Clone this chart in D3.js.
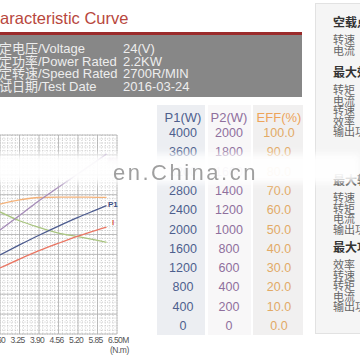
<!DOCTYPE html>
<html>
<head>
<meta charset="utf-8">
<style>
  body { margin: 0; background: #fff; overflow: hidden; }
  svg { display: block; font-family: "Liberation Sans", Arial, "Noto Sans CJK SC", sans-serif; }
</style>
<script src="https://cdn.jsdelivr.net/npm/d3@7"></script>
</head>
<body>
<svg width="360" height="360"></svg>
<script>
const specLabels = ['额定电压/Voltage', '额定功率/Power Rated', '额定转速/Speed Rated', '测试日期/Test Date'];
const specValues = ['24(V)', '2.2KW', '2700R/MIN', '2016-03-24'];

// torque axis (N.m)
const torqueTicks = [0, 0.65, 1.3, 1.95, 2.6, 3.25, 3.9, 4.55, 5.2, 5.85, 6.5];
const torqueTickLabels = ['0', '0.65', '1.30', '1.95', '2.60', '3.25', '3.90', '4.56', '5.20', '5.85', '6.50M'];

// curves
const torque = [2.6, 3.25, 3.9, 4.55, 5.2, 5.85, 6.15];
const p1Watts = [1590, 1790, 1985, 2170, 2345, 2505, 2580];
const p2Watts = [1045, 1190, 1340, 1475, 1610, 1745, 1810];
const effPct = [65.3, 67.4, 68.6, 68.8, 68.8, 68.7, 68.7];
const currentAmps = [66.3, 75.3, 83.7, 91.2, 98.3, 104.7, 107.3];
const speedRpm = [3680, 3415, 3215, 3045, 2935, 2820, 2765];

// right-hand scale table
const p1Rows = [4000, 3600, 3200, 2800, 2400, 2000, 1600, 1200, 800, 400, 0];
const p2Rows = [2000, 1800, 1600, 1400, 1200, 1000, 800, 600, 400, 200, 0];
const effRows = [100, 90, 80, 70, 60, 50, 40, 30, 20, 10, 0];

// side panel
const panelGroups = [
  { title: '空载点', items: ['转速', '电流'] },
  { title: '最大效率点', items: ['转矩', '电流', '转速', '效率', '输出功率'] },
  { title: '最大转矩点', items: ['转速', '转矩', '电流', '输出功率'] },
  { title: '最大功率点', items: ['效率', '转速', '转矩', '电流', '输出功率'] }
];

const svg = d3.select('svg');
const defs = svg.append('defs');
defs.append('filter').attr('id', 'soft').attr('x', '-20%').attr('y', '-60%').attr('width', '140%').attr('height', '220%')
  .append('feGaussianBlur').attr('stdDeviation', 3.5);
defs.append('filter').attr('id', 'fuzz')
  .append('feGaussianBlur').attr('stdDeviation', 0.8);

// ---- title + spec box
svg.append('text')
  .attr('x', -21).attr('y', 24)
  .attr('font-size', 16.5).attr('fill', '#b8473d')
  .text('Characteristic Curve');

svg.append('rect').attr('x', 0).attr('y', 32).attr('width', 302).attr('height', 3).attr('fill', '#9b2b2b');
svg.append('rect').attr('x', 0).attr('y', 35).attr('width', 302).attr('height', 62).attr('fill', '#878787');

const spec = svg.append('g').attr('font-size', 13).attr('fill', '#ededed');
spec.selectAll('text.lab').data(specLabels).join('text')
  .attr('class', 'lab').attr('x', -14).attr('y', (d, i) => 53 + i * 12.7).text(d => d);
spec.selectAll('text.val').data(specValues).join('text')
  .attr('class', 'val').attr('x', 123).attr('y', (d, i) => 53 + i * 12.7).text(d => d);

// ---- chart
const x = d3.scaleLinear().domain([0, 6.5]).range([-78, 117]);
const gridY = d3.scaleLinear().domain([0, 10]).range([334, 135]);
const yP1 = d3.scaleLinear().domain([0, 4000]).range([334, 135]);
const yP2 = d3.scaleLinear().domain([0, 2000]).range([334, 135]);
const yEff = d3.scaleLinear().domain([0, 100]).range([334, 135]);
const yI = d3.scaleLinear().domain([0, 200]).range([334, 135]);
const yN = d3.scaleLinear().domain([0, 6000]).range([334, 135]);

const grid = svg.append('g');
const minorX = d3.range(0, 6.5001, 0.13);
const minorY = d3.range(0, 10.0001, 0.2);
grid.selectAll('line.mx').data(minorX).join('line')
  .attr('x1', d => x(d)).attr('x2', d => x(d)).attr('y1', 135).attr('y2', 334)
  .attr('stroke', '#bdbdbd').attr('stroke-width', 0.8).attr('stroke-dasharray', '1,1.5');
grid.selectAll('line.my').data(minorY).join('line')
  .attr('x1', x(0)).attr('x2', x(6.5)).attr('y1', d => gridY(d)).attr('y2', d => gridY(d))
  .attr('stroke', '#bdbdbd').attr('stroke-width', 0.8).attr('stroke-dasharray', '1,1.5');
grid.selectAll('line.Mx').data(torqueTicks).join('line')
  .attr('x1', d => x(d)).attr('x2', d => x(d)).attr('y1', 135).attr('y2', 334)
  .attr('stroke', '#b0b0b0').attr('stroke-width', 0.8);
grid.selectAll('line.My').data(d3.range(0, 11)).join('line')
  .attr('x1', x(0)).attr('x2', x(6.5)).attr('y1', d => gridY(d)).attr('y2', d => gridY(d))
  .attr('stroke', '#b0b0b0').attr('stroke-width', 0.8);

const xAxis = d3.axisBottom(x).tickValues(torqueTicks).tickSize(0)
  .tickFormat((d, i) => torqueTickLabels[i]);
const ax = svg.append('g').attr('transform', 'translate(0,335)').call(xAxis);
ax.select('.domain').remove();
ax.selectAll('text')
  .attr('font-family', '"Liberation Sans", Arial, sans-serif')
  .attr('font-size', 8.5).attr('letter-spacing', -0.6).attr('fill', '#555')
  .attr('text-anchor', 'start').attr('dx', -9.5).attr('dy', 0).attr('y', 8);
svg.append('text').attr('x', 110).attr('y', 353)
  .attr('font-size', 8.5).attr('letter-spacing', -0.5).attr('fill', '#555').text('(N.m)');

const series = [
  { vals: speedRpm, y: yN, color: '#a9c57f' },
  { vals: effPct, y: yEff, color: '#f4b27a' },
  { vals: currentAmps, y: yI, color: '#ea7663' },
  { vals: p1Watts, y: yP1, color: '#4d5c8f' },
  { vals: p2Watts, y: yP2, color: '#a58bb8' }
];
series.forEach(s => {
  const line = d3.line().curve(d3.curveMonotoneX)
    .x((d, i) => x(torque[i])).y(d => s.y(d));
  svg.append('path').datum(s.vals).attr('d', line)
    .attr('fill', 'none').attr('stroke', s.color).attr('stroke-width', 1.3);
});

svg.append('text').attr('x', 108).attr('y', 163).attr('font-size', 8).attr('font-weight', 'bold')
  .attr('fill', '#b98fb8').attr('filter', 'url(#fuzz)').text('P2');
svg.append('text').attr('x', 108).attr('y', 207).attr('font-size', 8).attr('font-weight', 'bold')
  .attr('fill', '#3d4f86').text('P1');
svg.append('text').attr('x', 112).attr('y', 225).attr('font-size', 8).attr('font-weight', 'bold')
  .attr('fill', '#e0634f').text('I');

// ---- scale table
const rowY = d3.scaleLinear().domain([0, 10]).range([137, 330]);
svg.append('rect').attr('x', 157).attr('y', 105).attr('width', 48).attr('height', 230).attr('fill', '#eceef2');
svg.append('rect').attr('x', 208).attr('y', 105).attr('width', 43).attr('height', 230).attr('fill', '#f8f7f8');
svg.append('rect').attr('x', 253).attr('y', 105).attr('width', 50).attr('height', 230).attr('fill', '#f1f0f0');

const cols = [
  { head: 'P1(W)', rows: p1Rows.map(String), cx: 183, headColor: '#4e5f8e', color: '#4e5f8e' },
  { head: 'P2(W)', rows: p2Rows.map(String), cx: 229, headColor: '#8f6f9d', color: '#8f6f9d' },
  { head: 'EFF(%)', rows: effRows.map(v => v.toFixed(1)), cx: 279, headColor: '#eda45a', color: '#e2aa66' }
];
cols.forEach(c => {
  svg.append('text').attr('x', c.cx).attr('y', 122).attr('text-anchor', 'middle')
    .attr('font-size', 13).attr('fill', c.headColor).text(c.head);
  svg.append('g').selectAll('text').data(c.rows).join('text')
    .attr('x', c.cx).attr('y', (d, i) => rowY(i)).attr('text-anchor', 'middle')
    .attr('font-size', 12.5).attr('fill', c.color).text(d => d);
});

// ---- side panel
svg.append('rect').attr('x', 315.5).attr('y', 3.5).attr('width', 60).attr('height', 330)
  .attr('fill', '#f5f5f5').attr('stroke', '#e2e2e2');
const groupTops = [27, 77, 185, 252];
const panel = svg.append('g');
panelGroups.forEach((g, gi) => {
  panel.append('text').attr('x', 333).attr('y', groupTops[gi])
    .attr('font-size', 12).attr('font-weight', 'bold').attr('fill', '#333').text(g.title);
  panel.append('g').selectAll('text').data(g.items).join('text')
    .attr('x', 333).attr('y', (d, i) => groupTops[gi] + 17 + i * 10.6)
    .attr('font-size', 11).attr('fill', '#666').text(d => d);
});

// ---- watermark
svg.append('rect').attr('x', -10).attr('y', 154).attr('width', 370).attr('height', 29)
  .attr('fill', '#fff').attr('opacity', 0.95).attr('filter', 'url(#soft)');
svg.append('text').attr('x', 113).attr('y', 180)
  .attr('font-size', 22).attr('letter-spacing', 2.5).attr('fill', '#8f8f8f').attr('opacity', 0.85)
  .text('en.China.cn');
</script>
</body>
</html>
